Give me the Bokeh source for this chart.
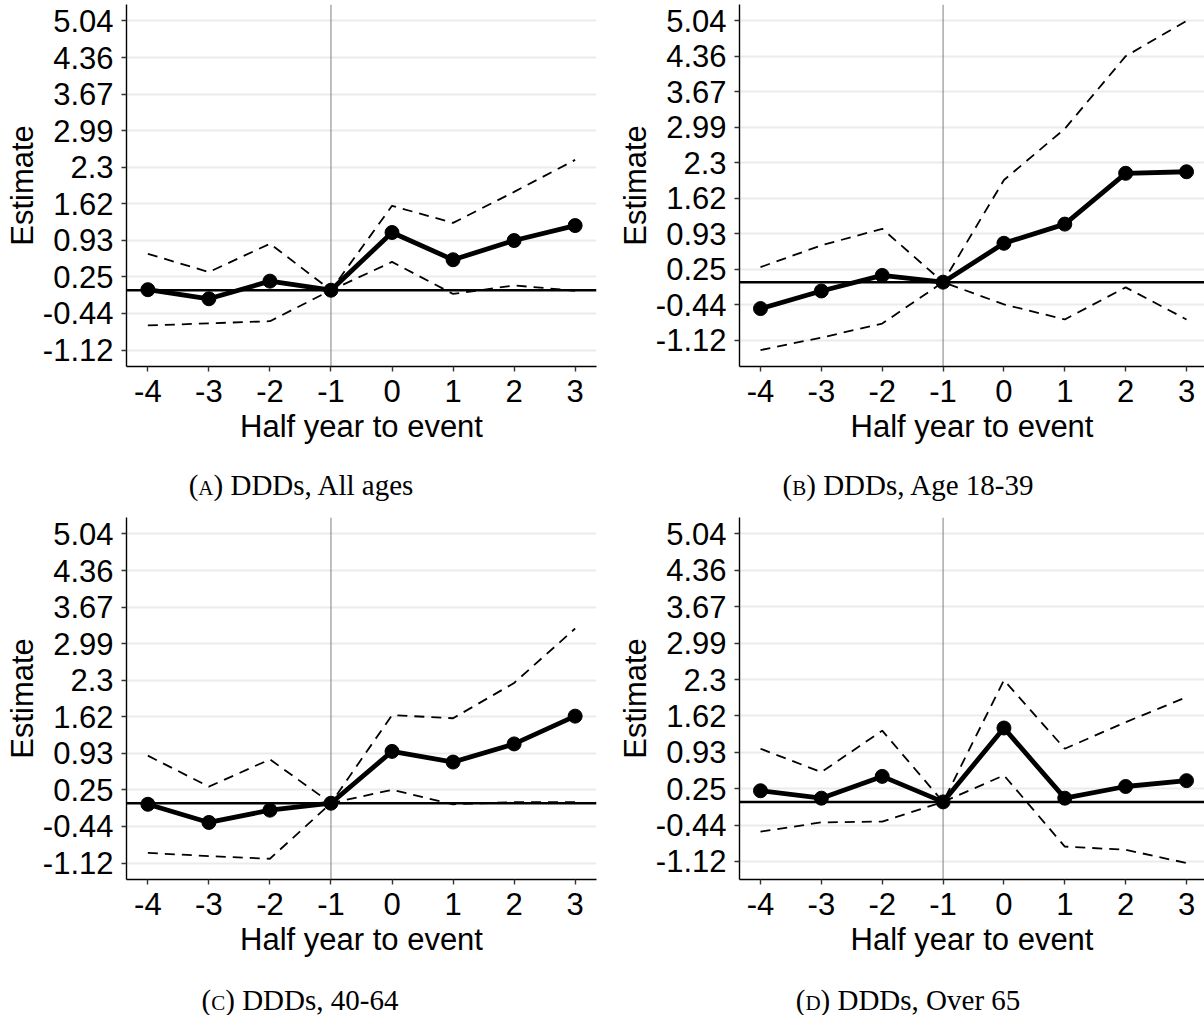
from bokeh.plotting import figure
from bokeh.models import Range1d, FixedTicker, Span, Div
from bokeh.layouts import column, row
from bokeh.embed import file_html
from bokeh.resources import INLINE

# ---------------- data ----------------
periods = [-4, -3, -2, -1, 0, 1, 2, 3]
x_tick_labels = ["-4", "-3", "-2", "-1", "0", "1", "2", "3"]

y_ticks = [-1.12 + i * (5.04 + 1.12) / 9 for i in range(10)]
y_tick_labels = ["-1.12", "-0.44", "0.25", "0.93", "1.62", "2.3", "2.99", "3.67", "4.36", "5.04"]

a_est = [0.01, -0.16, 0.17, 0.0, 1.08, 0.57, 0.93, 1.21]
a_hi = [0.68, 0.34, 0.87, 0.0, 1.58, 1.26, 1.84, 2.44]
a_lo = [-0.66, -0.62, -0.58, 0.0, 0.53, -0.07, 0.09, -0.01]

b_est = [-0.51, -0.17, 0.13, 0.0, 0.75, 1.12, 2.10, 2.13]
b_hi = [0.29, 0.71, 1.03, 0.0, 1.97, 2.96, 4.36, 5.04]
b_lo = [-1.31, -1.07, -0.80, 0.0, -0.43, -0.72, -0.10, -0.72]

c_est = [-0.02, -0.36, -0.13, 0.0, 0.97, 0.77, 1.11, 1.63]
c_hi = [0.89, 0.31, 0.82, 0.0, 1.65, 1.59, 2.25, 3.27]
c_lo = [-0.93, -0.99, -1.04, 0.0, 0.25, -0.02, 0.02, 0.02]

d_est = [0.21, 0.07, 0.48, 0.0, 1.39, 0.07, 0.29, 0.40]
d_hi = [1.00, 0.56, 1.34, 0.0, 2.29, 1.00, 1.50, 1.97]
d_lo = [-0.56, -0.385, -0.37, 0.0, 0.50, -0.84, -0.90, -1.15]

captions = [("A", "DDDs, All ages"), ("B", "DDDs, Age 18-39"),
            ("C", "DDDs, 40-64"), ("D", "DDDs, Over 65")]

FONT = "Liberation Sans"


def padded(lo, hi, others_lo=-1.12, others_hi=5.04):
    # ggplot-like 5% expansion of the panel's limits
    a = min(lo, others_lo)
    b = max(hi, others_hi)
    e = 0.05 * (b - a)
    return (a - e, b + e)


def make_panel(est, lo, hi, xr, width, height, left, right, top, bottom):
    yr = padded(min(lo), max(hi))
    p = figure(width=width, height=height, x_range=Range1d(*xr), y_range=Range1d(*yr),
               output_backend="svg", toolbar_location=None, tools="",
               min_border_left=left, min_border_right=right,
               min_border_top=top, min_border_bottom=bottom)
    p.outline_line_color = None
    p.background_fill_color = "white"
    p.border_fill_color = "white"

    p.xgrid.visible = False
    p.ygrid.grid_line_color = "#EBEBEB"
    p.ygrid.grid_line_width = 2

    p.xaxis.ticker = FixedTicker(ticks=periods)
    p.xaxis.major_label_overrides = {v: s for v, s in zip(periods, x_tick_labels)}
    p.yaxis.ticker = FixedTicker(ticks=y_ticks)
    p.yaxis.major_label_overrides = {v: s for v, s in zip(y_ticks, y_tick_labels)}

    for ax in (p.xaxis[0], p.yaxis[0]):
        ax.axis_line_color = "black"
        ax.axis_line_width = 1.4
        ax.major_tick_line_color = "#333333"
        ax.major_tick_line_width = 1.4
        ax.major_tick_out = 5
        ax.major_tick_in = 0
        ax.minor_tick_line_color = None
        ax.major_label_text_font = FONT
        ax.major_label_text_font_size = "31px"
        ax.major_label_text_color = "black"
        ax.axis_label_text_font = FONT
        ax.axis_label_text_font_size = "31px"
        ax.axis_label_text_font_style = "normal"
        ax.axis_label_text_color = "black"

    p.xaxis.axis_label = "Half year to event"
    p.yaxis.axis_label = "Estimate"
    p.xaxis.major_label_standoff = 8
    p.xaxis.axis_label_standoff = 4
    p.yaxis.major_label_standoff = 8
    p.yaxis.axis_label_standoff = 0

    p.add_layout(Span(location=-1, dimension="height", line_color="#7f7f7f",
                      line_width=1, level="underlay"))
    p.add_layout(Span(location=0, dimension="width", line_color="black",
                      line_width=2.5, level="underlay"))

    p.line(periods, hi, line_color="black", line_width=1.8, line_dash="10 7")
    p.line(periods, lo, line_color="black", line_width=1.8, line_dash="10 7")
    p.line(periods, est, line_color="black", line_width=4.8)
    p.scatter(periods, est, size=14, fill_color="black", line_color="black")
    return p


def caption(letter, rest, width, height, pad_top, shift):
    html = ('<div style="width:%dpx;text-align:center;font-family:\'Liberation Serif\';'
            'font-size:29px;line-height:1;color:black;padding-top:%dpx;'
            'box-sizing:border-box;position:relative;left:%dpx;white-space:nowrap;">'
            '(<span style="font-size:21px">%s</span>) %s</div>') % (width, pad_top, shift, letter, rest)
    return Div(text=html, width=width, height=height, margin=0)


XR_L = (-4.35, 3.35)
XR_R = (-4.345, 3.2955)

pa = make_panel(a_est, a_lo, a_hi, XR_L, 604, 466, 126, 8, 4, 100)
pb = make_panel(b_est, b_lo, b_hi, XR_R, 600, 466, 135, 0, 4, 100)
pc = make_panel(c_est, c_lo, c_hi, XR_L, 604, 467, 126, 8, 5, 100)
pd = make_panel(d_est, d_lo, d_hi, XR_R, 600, 467, 135, 0, 5, 100)

ca = caption(captions[0][0], captions[0][1], 604, 46, 5, -1)
cb = caption(captions[1][0], captions[1][1], 600, 46, 5, 4)
cc = caption(captions[2][0], captions[2][1], 604, 36, 7, -2)
cd = caption(captions[3][0], captions[3][1], 600, 36, 7, 4)

layout = column(row(column(pa, ca), column(pb, cb)),
                row(column(pc, cc), column(pd, cd)))

open("out.html", "w").write(file_html(layout, INLINE))
